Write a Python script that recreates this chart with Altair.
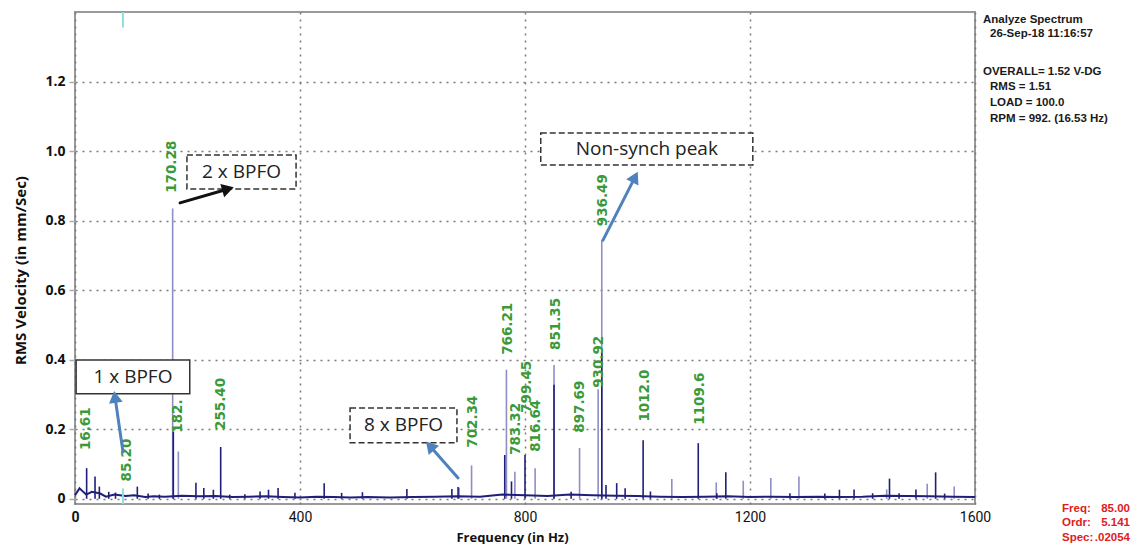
import math
import altair as alt
import pandas as pd

# ---------------- data ----------------
# dark (current) spectrum lines: frequency (Hz) and RMS velocity
dark_freq = [20.7, 35.6, 43.3, 60, 72, 110.8, 130, 150, 174.8, 215, 229, 246, 259, 275, 302, 329, 344, 361,
             391, 443, 474, 511, 590, 670, 681, 764, 776, 800, 851.6, 882, 936.5, 944, 963, 978, 1010,
             1023, 1108, 1141, 1157, 1271, 1333, 1359, 1385, 1418, 1448, 1465, 1495, 1530, 1546]
dark_amp = [0.088, 0.064, 0.035, 0.02, 0.018, 0.035, 0.015, 0.012, 0.193, 0.046, 0.031, 0.026, 0.149, 0.012,
            0.013, 0.021, 0.026, 0.031, 0.017, 0.045, 0.017, 0.019, 0.028, 0.028, 0.034, 0.126, 0.05, 0.126,
            0.328, 0.02, 0.42, 0.04, 0.045, 0.03, 0.168, 0.021, 0.16, 0.016, 0.076, 0.016, 0.015, 0.026,
            0.027, 0.016, 0.058, 0.016, 0.027, 0.076, 0.015]

# lighter overlay spectrum lines
light_freq = [173.6, 183.7, 683, 705, 767, 782, 818, 851.6, 897, 930, 936.5, 1061, 1140, 1188, 1237, 1287,
              1443, 1515, 1563]
light_amp = [0.835, 0.136, 0.032, 0.096, 0.371, 0.078, 0.088, 0.385, 0.146, 0.315, 0.745, 0.057, 0.047,
             0.052, 0.06, 0.064, 0.027, 0.043, 0.035]

# noise floor
noise_freq = [0, 8, 20, 30, 45, 55, 70, 90, 105, 125, 140, 160, 190, 220, 250, 280, 310, 340, 370, 400,
              430, 460, 490, 520, 560, 600, 640, 680, 720, 760, 800, 840, 880, 920, 960, 1000, 1040, 1080,
              1120, 1160, 1200, 1240, 1280, 1320, 1360, 1400, 1440, 1480, 1520, 1560, 1600]
noise_amp = [0.010, 0.030, 0.012, 0.020, 0.015, 0.006, 0.012, 0.008, 0.010, 0.005, 0.007, 0.006, 0.009,
             0.007, 0.008, 0.005, 0.006, 0.007, 0.005, 0.004, 0.006, 0.005, 0.004, 0.005, 0.004, 0.005,
             0.006, 0.007, 0.006, 0.012, 0.010, 0.008, 0.012, 0.010, 0.009, 0.008, 0.006, 0.005, 0.006,
             0.007, 0.005, 0.006, 0.005, 0.006, 0.005, 0.006, 0.009, 0.008, 0.007, 0.006, 0.005]

# peak labels (text, frequency, anchor amplitude where the label starts)
label_text = ["16.61", "85.20", "170.28", "182.", "255.40", "702.34", "766.21", "783.32", "799.45",
              "816.64", "851.35", "897.69", "930.92", "936.49", "1012.0", "1109.6"]
label_freq = [20, 92, 172, 183, 259, 708, 770, 784, 803, 820, 855, 898, 932, 938, 1013, 1111]
label_amp = [0.14, 0.05, 0.88, 0.19, 0.198, 0.147, 0.414, 0.126, 0.247, 0.135, 0.428, 0.19, 0.319,
             0.784, 0.222, 0.213]

# annotation boxes
box_text = ["1 x BPFO", "2 x BPFO", "8 x BPFO", "Non-synch peak"]
box_f1 = [2, 199, 489, 828]
box_f2 = [204, 393, 679, 1205]
box_v1 = [0.302, 0.891, 0.161, 0.960]
box_v2 = [0.399, 0.989, 0.261, 1.052]
box_dashed = [False, True, True, True]

# annotation arrows (tail -> head)
arrow_f1 = [85.3, 186.7, 938.7, 681]
arrow_v1 = [0.135, 0.851, 0.744, 0.060]
arrow_f2 = [71.1, 272, 995.6, 631]
arrow_v2 = [0.293, 0.891, 0.925, 0.152]
arrow_kind = ["blue", "black", "blue", "blue"]

cursor_freq = 85.2

x_ticks = [0, 400, 800, 1200, 1600]
y_ticks = [0, 0.2, 0.4, 0.6, 0.8, 1.0, 1.2]

info_lines = ["Analyze Spectrum", "26-Sep-18   11:16:57", "OVERALL= 1.52 V-DG", "RMS =  1.51",
              "LOAD = 100.0", "RPM = 992. (16.53 Hz)"]
readout_names = ["Freq:", "Ordr:", "Spec:"]
readout_values = ["85.00", "5.141", ".02054"]

# ---------------- chart ----------------
W, H = 900, 492
XDOM = [0, 1600]
YDOM = [-0.015, 1.4]
xs = alt.Scale(domain=XDOM, nice=False, zero=False)
ys = alt.Scale(domain=YDOM, nice=False, zero=False)

DARK = "#1f1f7a"
LIGHT = "#8e8ec6"
GREEN = "#3a9a3a"
BLUE = "#4f81bd"

x_axis = alt.Axis(values=x_ticks, grid=True, gridDash=[2, 5], gridColor="#7a7a7a", gridWidth=1.5,
                  domain=False, ticks=False, labelFont="Roboto", labelFontSize=14, labelColor="#111",
                  labelPadding=6, labelFlush=False, format="d",
                  labelFontWeight={"condition": {"test": "datum.value === 0", "value": "bold"}, "value": "normal"},
                  title="Frequency (in Hz)", titleFont="Open Sans", titleFontSize=13, titleFontWeight="bold",
                  titleColor="#111", titleX=437, titleY=33, titleBaseline="middle", titleAlign="center")
y_axis = alt.Axis(values=y_ticks, grid=True, gridDash=[2, 5], gridColor="#7a7a7a", gridWidth=1.5,
                  domain=False, ticks=True, tickSize=6, tickColor="#aaa", tickWidth=1.5,
                  labelFont="Open Sans", labelFontSize=14, labelFontWeight="bold", labelColor="#111",
                  labelPadding=4,
                  labelExpr="datum.value === 0 ? '0' : format(datum.value, '.1f')",
                  title="RMS Velocity (in mm/Sec)", titleFont="Open Sans", titleFontSize=15,
                  titleFontWeight="bold", titleColor="#111", titleAngle=270, titleX=-55, titleY=258,
                  titleAlign="center", titleBaseline="middle")


def X(field):
    return alt.X(field, scale=xs, axis=x_axis)


def Y(field):
    return alt.Y(field, scale=ys, axis=y_axis)


light_df = pd.DataFrame({"f": light_freq, "v": light_amp, "v0": 0.0})
dark_df = pd.DataFrame({"f": dark_freq, "v": dark_amp, "v0": 0.0})
noise_df = pd.DataFrame({"f": noise_freq, "v": noise_amp})

light_layer = alt.Chart(light_df).mark_rule(color=LIGHT, strokeWidth=1.6).encode(
    x=X("f:Q"), y=Y("v0:Q"), y2="v:Q")
dark_layer = alt.Chart(dark_df).mark_rule(color=DARK, strokeWidth=1.6).encode(
    x=X("f:Q"), y=Y("v0:Q"), y2="v:Q")
noise_layer = alt.Chart(noise_df).mark_line(color=DARK, strokeWidth=2).encode(
    x=X("f:Q"), y=Y("v:Q"))

cursor_df = pd.DataFrame({"f": [cursor_freq, cursor_freq], "a": [1.355, -0.015], "b": [1.4, 0.03]})
cursor_layer = alt.Chart(cursor_df).mark_rule(color="#8fdede", strokeWidth=2).encode(
    x=X("f:Q"), y=Y("a:Q"), y2="b:Q")

box_df = pd.DataFrame({"t": box_text, "f1": box_f1, "f2": box_f2, "v1": box_v1, "v2": box_v2,
                       "dashed": box_dashed})
box_df["fc"] = (box_df["f1"] + box_df["f2"]) / 2
box_df["vc"] = (box_df["v1"] + box_df["v2"]) / 2
solid_boxes = alt.Chart(box_df[~box_df["dashed"]]).mark_rect(fill="white", stroke="#333", strokeWidth=1.5).encode(
    x=X("f1:Q"), x2="f2:Q", y=Y("v1:Q"), y2="v2:Q")
dashed_boxes = alt.Chart(box_df[box_df["dashed"]]).mark_rect(
    fill="white", stroke="#333", strokeWidth=1.5, strokeDash=[6, 3]).encode(
    x=X("f1:Q"), x2="f2:Q", y=Y("v1:Q"), y2="v2:Q")
box_text_layer = alt.Chart(box_df).mark_text(font="Open Sans", fontSize=19, color="#222",
                                             align="center", baseline="middle").encode(
    x=X("fc:Q"), y=Y("vc:Q"), text="t:N")

lab_df = pd.DataFrame({"t": label_text, "f": label_freq, "v": label_amp})
label_layer = alt.Chart(lab_df).mark_text(font="DejaVu Sans", fontSize=13.5, fontWeight="bold", color=GREEN,
                                          angle=270, align="left", baseline="middle").encode(
    x=X("f:Q"), y=Y("v:Q"), text="t:N")

# arrows
px_per_f = W / (XDOM[1] - XDOM[0])
px_per_v = H / (YDOM[1] - YDOM[0])
angles = []
for f1, v1, f2, v2 in zip(arrow_f1, arrow_v1, arrow_f2, arrow_v2):
    dx = (f2 - f1) * px_per_f
    dy = (v2 - v1) * px_per_v
    angles.append(math.degrees(math.atan2(dx, dy)) % 360)
arr_df = pd.DataFrame({"f1": arrow_f1, "v1": arrow_v1, "f2": arrow_f2, "v2": arrow_v2,
                       "kind": arrow_kind, "ang": angles})
arrow_color = alt.Color("kind:N", scale=alt.Scale(domain=["blue", "black"], range=[BLUE, "#111"]), legend=None)
shaft_layer = alt.Chart(arr_df).mark_rule(strokeWidth=3, strokeCap="round").encode(
    x=X("f1:Q"), x2="f2:Q", y=Y("v1:Q"), y2="v2:Q", color=arrow_color)
head_layer = alt.Chart(arr_df).mark_point(shape="triangle-up", filled=True, size=190, opacity=1).encode(
    x=X("f2:Q"), y=Y("v2:Q"), angle=alt.Angle("ang:Q", scale=None), color=arrow_color)

layers = [light_layer, dark_layer, noise_layer, cursor_layer, solid_boxes, dashed_boxes, box_text_layer,
          label_layer, shaft_layer, head_layer]

# info panel (top-right), pixel positions relative to plot origin
info_x = [908, 915, 908, 915, 915, 915]
info_y = [8, 22, 60, 75, 91, 107]
for txt, px, py in zip(info_lines, info_x, info_y):
    layers.append(
        alt.Chart(pd.DataFrame({"t": [txt]})).mark_text(
            font="Liberation Sans", fontSize=11.5, fontWeight="bold", color="#1a1a1a",
            align="left", baseline="middle").encode(x=alt.value(px), y=alt.value(py), text="t:N")
    )

# red cursor readout (bottom-right)
read_y = [497, 511, 526]
for name, val, py in zip(readout_names, readout_values, read_y):
    layers.append(
        alt.Chart(pd.DataFrame({"t": [name]})).mark_text(
            font="Liberation Sans", fontSize=11.5, fontWeight="bold", color="#e0201c",
            align="left", baseline="middle"
        ).encode(x=alt.value(987), y=alt.value(py), text="t:N")
    )
    layers.append(
        alt.Chart(pd.DataFrame({"t": [val]})).mark_text(
            font="Liberation Sans", fontSize=11.5, fontWeight="bold", color="#e0201c",
            align="right", baseline="middle"
        ).encode(x=alt.value(1055), y=alt.value(py), text="t:N")
    )

chart = alt.layer(*layers).properties(
    width=W, height=H,
    autosize=alt.AutoSizeParams(type="none"),
    padding={"left": 67, "top": 4, "right": 158, "bottom": 40},
    background="white",
).configure_view(stroke="#9a9a9a", strokeWidth=2)

chart.save("out.html", embed_options={"renderer": "svg", "actions": False})
